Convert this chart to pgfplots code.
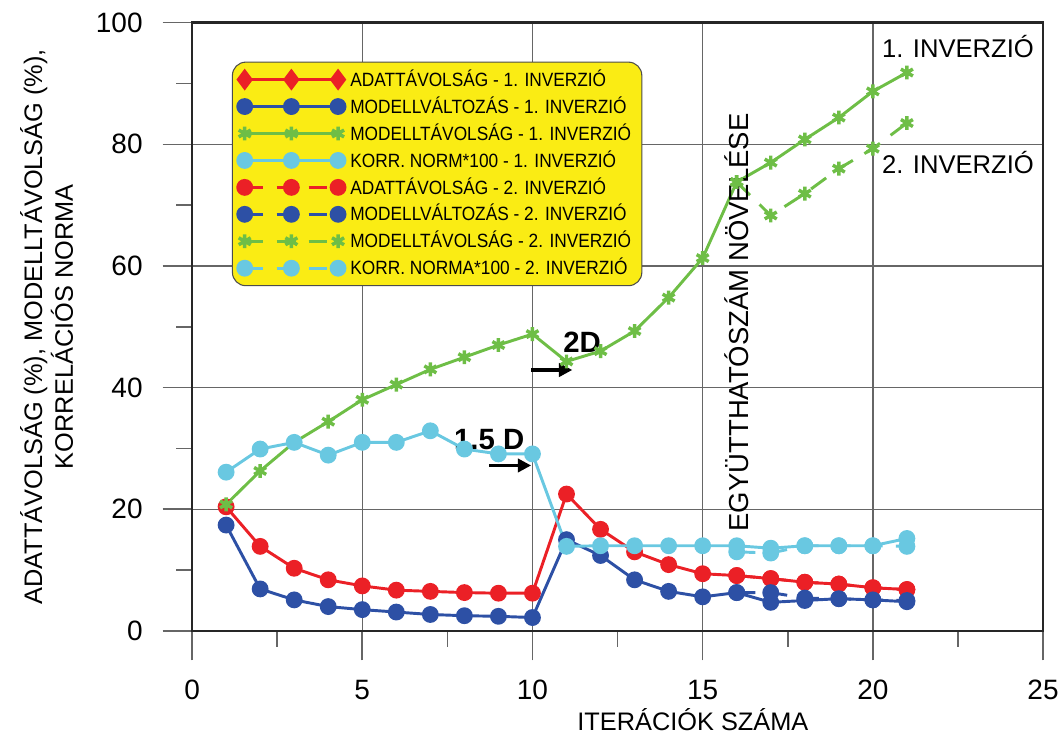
\documentclass[border=0pt]{standalone}
\usepackage{pgfplots}
\pgfplotsset{compat=1.18}
\usepackage{fontspec}
\setmainfont{Liberation Sans}
\newfontfamily\legfont{Liberation Sans}[FakeStretch=0.9]
\usetikzlibrary{arrows.meta}
\definecolor{cred}{RGB}{235,32,38}
\definecolor{cblue}{RGB}{45,80,165}
\definecolor{cgreen}{RGB}{110,190,70}
\definecolor{ccyan}{RGB}{105,200,225}
\definecolor{cyell}{RGB}{250,236,20}
\begin{document}
\begin{tikzpicture}
\begin{axis}[
  scale only axis, width=319pt, height=228pt,
  xmin=0, xmax=25, ymin=0, ymax=100,
  xtick={0,5,...,25}, ytick={0,20,...,100},
  minor xtick={2.5,7.5,...,22.5}, minor ytick={10,30,...,90},
  tick align=outside, tick pos=left,
  major tick length=11pt, minor tick length=6pt,
  every tick/.style={black!60, line width=0.6pt},
  grid=major, major grid style={black!60, line width=0.5pt},
  axis line style={line width=1pt, black!85},
  ticklabel style={font=\fontsize{10.5}{12}\selectfont},
  /pgf/number format/assume math mode=true,
  xticklabel shift=4pt, yticklabel shift=4pt,
  xlabel={ITERÁCIÓK SZÁMA},
  xlabel style={at={(axis description cs:0.5885,-0.146)}, anchor=center, font=\fontsize{9.5}{11}\selectfont},
  ylabel={ADATTÁVOLSÁG (\%), MODELLTÁVOLSÁG (\%),\\KORRELÁCIÓS NORMA},
  ylabel style={at={(axis description cs:-0.171,0.5)}, anchor=center, align=center, font=\fontsize{9.5}{11.5}\selectfont},
  legend style={at={(axis cs:1.17,93.6)}, anchor=north west, fill=cyell, draw=black!70, rounded corners=5pt,
    font=\legfont\fontsize{7.2}{8}\selectfont, inner xsep=2pt, inner ysep=1.5pt,
    nodes={inner ysep=1.95pt, text height=5.6pt, text depth=0.6pt}},
  legend cell align=left,
  legend image code/.code={\draw[mark repeat=1,#1] plot coordinates {(0pt,0pt) (17.5pt,0pt) (35pt,0pt)};},
  every axis plot/.append style={line width=1.1pt},
]
\addplot[cred, mark=*, mark size=2.6pt, legend image post style={mark=diamond*, mark size=3.2pt}] coordinates {
(1,20.4) (2,13.9) (3,10.3) (4,8.4) (5,7.4) (6,6.7) (7,6.5) (8,6.3) (9,6.2) (10,6.2)
(11,22.5) (12,16.7) (13,13.0) (14,10.9) (15,9.4) (16,9.1) (17,8.6) (18,8.0) (19,7.7) (20,7.1) (21,6.8)};
\addlegendentry{ADATTÁVOLSÁG - 1. INVERZIÓ}
\addplot[cblue, mark=*, mark size=2.6pt] coordinates {
(1,17.4) (2,6.9) (3,5.1) (4,4.0) (5,3.5) (6,3.1) (7,2.7) (8,2.5) (9,2.4) (10,2.2)
(11,15.0) (12,12.4) (13,8.4) (14,6.5) (15,5.6) (16,6.3) (17,4.7) (18,5.0) (19,5.3) (20,5.1) (21,4.8)};
\addlegendentry{MODELLVÁLTOZÁS - 1. INVERZIÓ}
\addplot[cgreen, mark=asterisk, mark size=2.6pt, mark options={line width=1.3pt}] coordinates {
(1,20.8) (2,26.3) (3,31.0) (4,34.4) (5,38.0) (6,40.5) (7,43.0) (8,45.0) (9,47.0) (10,48.8)
(11,44.3) (12,46.0) (13,49.3) (14,54.8) (15,61.3) (16,73.8) (17,77.0) (18,80.8) (19,84.4) (20,88.7) (21,91.8)};
\addlegendentry{MODELLTÁVOLSÁG - 1. INVERZIÓ}
\addplot[ccyan, mark=*, mark size=2.6pt] coordinates {
(1,26.1) (2,29.9) (3,31.0) (4,28.9) (5,31.0) (6,31.0) (7,32.9) (8,29.9) (9,29.1) (10,29.1)
(11,13.9) (12,14.0) (13,14.0) (14,14.0) (15,14.0) (16,14.0) (17,13.6) (18,14.0) (19,14.0) (20,14.0) (21,15.2)};
\addlegendentry{KORR. NORM*100 - 1. INVERZIÓ}
\addplot[cred, dash pattern=on 7pt off 5pt, mark=*, mark size=2.6pt, mark options={solid}] coordinates {
(16,9.1) (17,8.6) (18,8.0) (19,7.7) (20,7.1) (21,6.8)};
\addlegendentry{ADATTÁVOLSÁG - 2. INVERZIÓ}
\addplot[cblue, dash pattern=on 7pt off 5pt, mark=*, mark size=2.6pt, mark options={solid}] coordinates {
(16,6.3) (17,6.3) (18,5.4) (19,5.3) (20,5.1) (21,5.0)};
\addlegendentry{MODELLVÁLTOZÁS - 2. INVERZIÓ}
\addplot[cgreen, dash pattern=on 7pt off 5pt, mark=asterisk, mark size=2.6pt, mark options={solid, line width=1.3pt}] coordinates {
(16,73.8) (17,68.3) (18,71.9) (19,76.0) (20,79.3) (21,83.5)};
\addlegendentry{MODELLTÁVOLSÁG - 2. INVERZIÓ}
\addplot[ccyan, dash pattern=on 7pt off 5pt, mark=*, mark size=2.6pt, mark options={solid}] coordinates {
(16,13.0) (17,12.8) (18,14.0) (19,14.0) (20,14.0) (21,13.9)};
\addlegendentry{KORR. NORMA*100 - 2. INVERZIÓ}
\node[font=\bfseries\fontsize{11}{13}\selectfont] at (axis cs:8.73,31.4) {1.5 D};
\draw[-{Triangle[length=5pt,width=5pt]}, line width=1.2pt] (axis cs:8.73,27.2) -- (axis cs:9.96,27.2);
\node[font=\bfseries\fontsize{11}{13}\selectfont] at (axis cs:11.46,47.4) {2D};
\draw[-{Triangle[length=5pt,width=5pt]}, line width=1.2pt] (axis cs:9.96,42.9) -- (axis cs:11.17,42.9);
\node[rotate=90, font=\fontsize{10.3}{12}\selectfont] at (axis cs:16.0,50.7) {EGYÜTTHATÓSZÁM NÖVELÉSE};
\node[font=\fontsize{9.6}{11}\selectfont] at (axis cs:22.5,96.05) {1. INVERZIÓ};
\node[font=\fontsize{9.6}{11}\selectfont] at (axis cs:22.5,77.05) {2. INVERZIÓ};
\coordinate (ll) at (rel axis cs:0,0);
\coordinate (ur) at (rel axis cs:1,1);
\end{axis}
\pgfresetboundingbox
\path[use as bounding box] ([xshift=-72pt,yshift=-42pt]ll) rectangle ([xshift=7.1pt,yshift=8.5pt]ur);
\end{tikzpicture}
\end{document}
